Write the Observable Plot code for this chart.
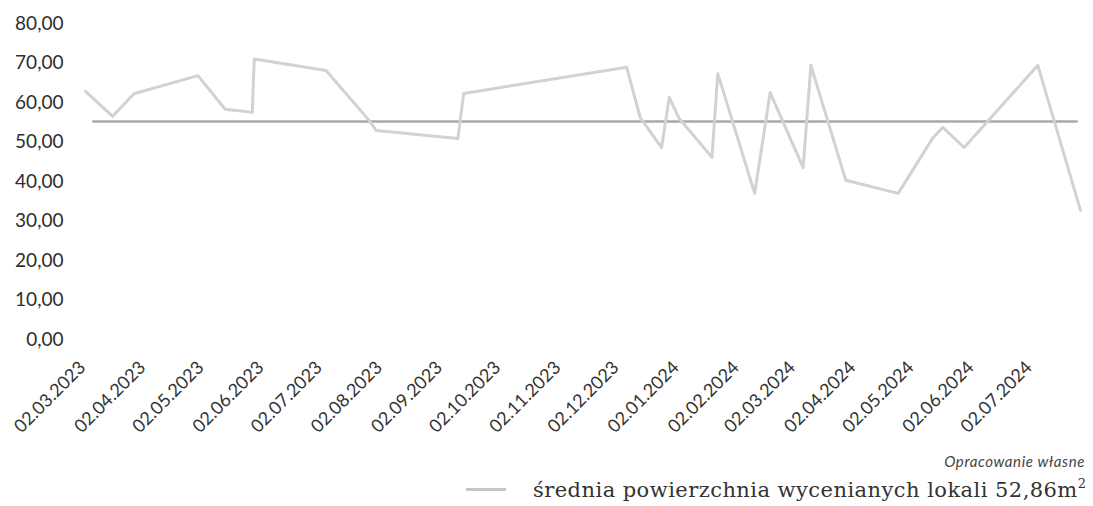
<!DOCTYPE html>
<html>
<head>
<meta charset="utf-8">
<script src="https://cdn.jsdelivr.net/npm/d3@7"></script>
<script src="https://cdn.jsdelivr.net/npm/@observablehq/plot@0.6"></script>
<style>
  html, body { margin: 0; padding: 0; background: #fff; }
  #wrap { width: 1093px; height: 506px; position: relative; overflow: hidden; }
  #caption { position: absolute; right: 8px; top: 452px; font-family: Lato, sans-serif; font-style: italic; font-size: 15px; letter-spacing: 0.6px; color: #444; }
  #legend { position: absolute; left: 466px; top: 476px; display: flex; align-items: center; font-family: "DejaVu Serif", serif; font-size: 21px; letter-spacing: 0.45px; color: #333; white-space: nowrap; }
  #legend .sw { width: 40px; height: 3px; background: #c6c6c6; margin-right: 27px; }
  #legend sup { font-size: 13px; vertical-align: 9px; }
</style>
</head>
<body>
<div id="wrap">
  <div id="chart"></div>
  <div id="caption">Opracowanie własne</div>
  <div id="legend"><span class="sw"></span><span>średnia powierzchnia wycenianych lokali 52,86m<sup>2</sup></span></div>
</div>
<script>
// Data
const dates = [
  "2023-03-02","2023-03-16","2023-03-27","2023-04-29","2023-05-13","2023-05-27",
  "2023-05-28","2023-07-04","2023-07-26","2023-07-30","2023-09-10","2023-09-13",
  "2023-12-06","2023-12-13","2023-12-24","2023-12-28","2024-01-02","2024-01-19",
  "2024-01-22","2024-02-10","2024-02-18","2024-03-06","2024-03-10","2024-03-28",
  "2024-04-24","2024-05-12","2024-05-17","2024-05-28","2024-07-05","2024-07-27"
];
const values = [
  62.8, 56.5, 62.2, 66.8, 58.3, 57.5,
  71.0, 68.1, 55.6, 52.9, 50.9, 62.3,
  68.9, 56.2, 48.6, 61.3, 56.0, 46.1,
  67.3, 37.0, 62.5, 43.5, 69.4, 40.3,
  37.0, 51.1, 53.7, 48.6, 69.4, 32.7
];
const avgDates = ["2023-03-06", "2024-07-25"];
const avgValues = [55.2, 55.2];
const tickLabels = [
  "02.03.2023","02.04.2023","02.05.2023","02.06.2023","02.07.2023","02.08.2023",
  "02.09.2023","02.10.2023","02.11.2023","02.12.2023","02.01.2024","02.02.2024",
  "02.03.2024","02.04.2024","02.05.2024","02.06.2024","02.07.2024"
];
const yTicks = [0, 10, 20, 30, 40, 50, 60, 70, 80];

const parse = d3.utcParse("%Y-%m-%d");
const parseTick = d3.utcParse("%d.%m.%Y");
const fmtTick = d3.utcFormat("%d.%m.%Y");
const series = dates.map((d, i) => ({date: parse(d), value: values[i]}));
const avg = avgDates.map((d, i) => ({date: parse(d), value: avgValues[i]}));
const ticks = tickLabels.map(parseTick);

const chart = Plot.plot({
  width: 1093,
  height: 450,
  marginLeft: 85,
  marginRight: 13,
  marginTop: 23,
  marginBottom: 111,
  style: {fontFamily: "Lato, sans-serif", background: "#fff"},
  x: {type: "utc", axis: null, domain: [series[0].date, series[series.length - 1].date]},
  y: {domain: [0, 80]},
  marks: [
    Plot.axisY({ticks: yTicks, tickSize: 0, tickPadding: 22, tickFormat: d => d3.format(".2f")(d).replace(".", ","), fontSize: 19, fill: "#2e2e2e", label: null}),
    Plot.text(ticks, {x: d => d, frameAnchor: "bottom", dy: 25, dx: -3, rotate: -45, textAnchor: "end", lineAnchor: "middle", text: d => fmtTick(d), fontSize: 18, fill: "#333"}),
    Plot.line(avg, {x: "date", y: "value", stroke: "#a9a9a9", strokeWidth: 2.5}),
    Plot.line(series, {x: "date", y: "value", stroke: "#d2d2d2", strokeWidth: 3})
  ]
});
document.getElementById("chart").appendChild(chart);
</script>
</body>
</html>
